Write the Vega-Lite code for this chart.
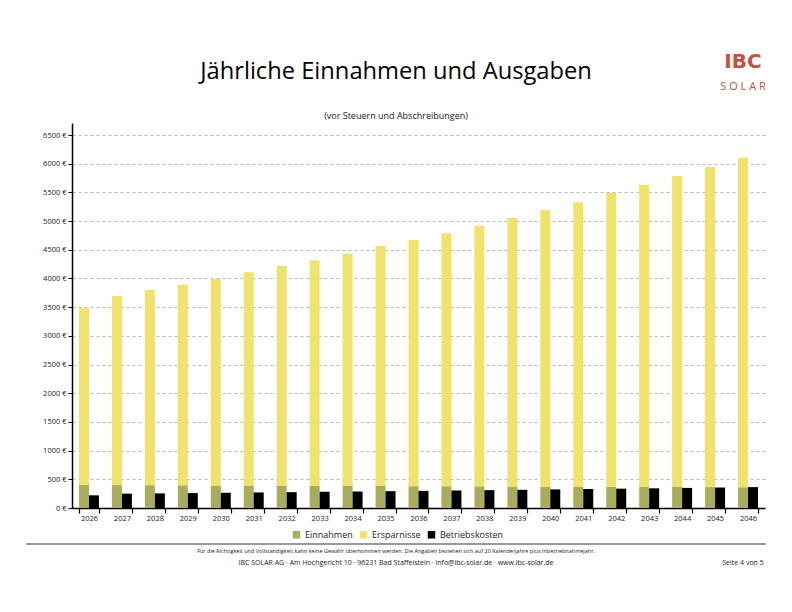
{
  "$schema": "https://vega.github.io/schema/vega-lite/v6.json",
  "padding": 0,
  "spacing": 0,
  "bounds": "full",
  "config": {
    "view": {"stroke": null},
    "font": "Open Sans",
    "concat": {"spacing": 0},
    "text": {"font": "Open Sans", "color": "#000"}
  },
  "datasets": {
    "werte": [
      {"jahr": "2026", "kategorie": "Einnahmen", "gruppe": "Ertrag", "wert": 401},
      {"jahr": "2026", "kategorie": "Ersparnisse", "gruppe": "Ertrag", "wert": 3089},
      {"jahr": "2026", "kategorie": "Betriebskosten", "gruppe": "Kosten", "wert": 221},
      {"jahr": "2027", "kategorie": "Einnahmen", "gruppe": "Ertrag", "wert": 399},
      {"jahr": "2027", "kategorie": "Ersparnisse", "gruppe": "Ertrag", "wert": 3296},
      {"jahr": "2027", "kategorie": "Betriebskosten", "gruppe": "Kosten", "wert": 250},
      {"jahr": "2028", "kategorie": "Einnahmen", "gruppe": "Ertrag", "wert": 397},
      {"jahr": "2028", "kategorie": "Ersparnisse", "gruppe": "Ertrag", "wert": 3403},
      {"jahr": "2028", "kategorie": "Betriebskosten", "gruppe": "Kosten", "wert": 255},
      {"jahr": "2029", "kategorie": "Einnahmen", "gruppe": "Ertrag", "wert": 395},
      {"jahr": "2029", "kategorie": "Ersparnisse", "gruppe": "Ertrag", "wert": 3495},
      {"jahr": "2029", "kategorie": "Betriebskosten", "gruppe": "Kosten", "wert": 260},
      {"jahr": "2030", "kategorie": "Einnahmen", "gruppe": "Ertrag", "wert": 393},
      {"jahr": "2030", "kategorie": "Ersparnisse", "gruppe": "Ertrag", "wert": 3597},
      {"jahr": "2030", "kategorie": "Betriebskosten", "gruppe": "Kosten", "wert": 265},
      {"jahr": "2031", "kategorie": "Einnahmen", "gruppe": "Ertrag", "wert": 391},
      {"jahr": "2031", "kategorie": "Ersparnisse", "gruppe": "Ertrag", "wert": 3719},
      {"jahr": "2031", "kategorie": "Betriebskosten", "gruppe": "Kosten", "wert": 271},
      {"jahr": "2032", "kategorie": "Einnahmen", "gruppe": "Ertrag", "wert": 389},
      {"jahr": "2032", "kategorie": "Ersparnisse", "gruppe": "Ertrag", "wert": 3831},
      {"jahr": "2032", "kategorie": "Betriebskosten", "gruppe": "Kosten", "wert": 276},
      {"jahr": "2033", "kategorie": "Einnahmen", "gruppe": "Ertrag", "wert": 387},
      {"jahr": "2033", "kategorie": "Ersparnisse", "gruppe": "Ertrag", "wert": 3933},
      {"jahr": "2033", "kategorie": "Betriebskosten", "gruppe": "Kosten", "wert": 282},
      {"jahr": "2034", "kategorie": "Einnahmen", "gruppe": "Ertrag", "wert": 385},
      {"jahr": "2034", "kategorie": "Ersparnisse", "gruppe": "Ertrag", "wert": 4045},
      {"jahr": "2034", "kategorie": "Betriebskosten", "gruppe": "Kosten", "wert": 287},
      {"jahr": "2035", "kategorie": "Einnahmen", "gruppe": "Ertrag", "wert": 383},
      {"jahr": "2035", "kategorie": "Ersparnisse", "gruppe": "Ertrag", "wert": 4182},
      {"jahr": "2035", "kategorie": "Betriebskosten", "gruppe": "Kosten", "wert": 293},
      {"jahr": "2036", "kategorie": "Einnahmen", "gruppe": "Ertrag", "wert": 381},
      {"jahr": "2036", "kategorie": "Ersparnisse", "gruppe": "Ertrag", "wert": 4289},
      {"jahr": "2036", "kategorie": "Betriebskosten", "gruppe": "Kosten", "wert": 299},
      {"jahr": "2037", "kategorie": "Einnahmen", "gruppe": "Ertrag", "wert": 379},
      {"jahr": "2037", "kategorie": "Ersparnisse", "gruppe": "Ertrag", "wert": 4411},
      {"jahr": "2037", "kategorie": "Betriebskosten", "gruppe": "Kosten", "wert": 305},
      {"jahr": "2038", "kategorie": "Einnahmen", "gruppe": "Ertrag", "wert": 377},
      {"jahr": "2038", "kategorie": "Ersparnisse", "gruppe": "Ertrag", "wert": 4538},
      {"jahr": "2038", "kategorie": "Betriebskosten", "gruppe": "Kosten", "wert": 311},
      {"jahr": "2039", "kategorie": "Einnahmen", "gruppe": "Ertrag", "wert": 375},
      {"jahr": "2039", "kategorie": "Ersparnisse", "gruppe": "Ertrag", "wert": 4680},
      {"jahr": "2039", "kategorie": "Betriebskosten", "gruppe": "Kosten", "wert": 317},
      {"jahr": "2040", "kategorie": "Einnahmen", "gruppe": "Ertrag", "wert": 373},
      {"jahr": "2040", "kategorie": "Ersparnisse", "gruppe": "Ertrag", "wert": 4822},
      {"jahr": "2040", "kategorie": "Betriebskosten", "gruppe": "Kosten", "wert": 324},
      {"jahr": "2041", "kategorie": "Einnahmen", "gruppe": "Ertrag", "wert": 371},
      {"jahr": "2041", "kategorie": "Ersparnisse", "gruppe": "Ertrag", "wert": 4959},
      {"jahr": "2041", "kategorie": "Betriebskosten", "gruppe": "Kosten", "wert": 330},
      {"jahr": "2042", "kategorie": "Einnahmen", "gruppe": "Ertrag", "wert": 369},
      {"jahr": "2042", "kategorie": "Ersparnisse", "gruppe": "Ertrag", "wert": 5121},
      {"jahr": "2042", "kategorie": "Betriebskosten", "gruppe": "Kosten", "wert": 337},
      {"jahr": "2043", "kategorie": "Einnahmen", "gruppe": "Ertrag", "wert": 367},
      {"jahr": "2043", "kategorie": "Ersparnisse", "gruppe": "Ertrag", "wert": 5263},
      {"jahr": "2043", "kategorie": "Betriebskosten", "gruppe": "Kosten", "wert": 343},
      {"jahr": "2044", "kategorie": "Einnahmen", "gruppe": "Ertrag", "wert": 366},
      {"jahr": "2044", "kategorie": "Ersparnisse", "gruppe": "Ertrag", "wert": 5419},
      {"jahr": "2044", "kategorie": "Betriebskosten", "gruppe": "Kosten", "wert": 350},
      {"jahr": "2045", "kategorie": "Einnahmen", "gruppe": "Ertrag", "wert": 364},
      {"jahr": "2045", "kategorie": "Ersparnisse", "gruppe": "Ertrag", "wert": 5581},
      {"jahr": "2045", "kategorie": "Betriebskosten", "gruppe": "Kosten", "wert": 357},
      {"jahr": "2046", "kategorie": "Einnahmen", "gruppe": "Ertrag", "wert": 362},
      {"jahr": "2046", "kategorie": "Ersparnisse", "gruppe": "Ertrag", "wert": 5748},
      {"jahr": "2046", "kategorie": "Betriebskosten", "gruppe": "Kosten", "wert": 364}
    ]
  },
  "vconcat": [
    {
      "bounds": "flush",
      "hconcat": [
        {"width": 72, "height": 123, "data": {"values": [{}]}, "mark": {"type": "text", "text": "", "fontSize": 0}},
        {
          "width": 648,
          "height": 123,
          "data": {"values": [{}]},
          "layer": [
            {"mark": {"type": "text", "text": "Jährliche Einnahmen und Ausgaben", "fontSize": 23.7, "baseline": "alphabetic", "dy": 17.5}},
            {"mark": {"type": "text", "text": "(vor Steuern und Abschreibungen)", "fontSize": 9, "baseline": "alphabetic", "dy": 57, "color": "#222"}}
          ]
        },
        {
          "width": 46,
          "height": 123,
          "data": {"values": [{}]},
          "layer": [
            {"mark": {"type": "text", "text": "IBC", "font": "DejaVu Sans", "fontWeight": "bold", "fontSize": 20, "baseline": "alphabetic", "dy": 6.8, "color": "#c4513f"}},
            {"mark": {"type": "text", "text": "S O L A R", "fontSize": 11, "baseline": "alphabetic", "dy": 28.5, "color": "#c4513f"}}
          ]
        }
      ]
    },
    {
      "bounds": "flush",
      "hconcat": [
        {"width": 72, "height": 385, "data": {"values": [{}]}, "mark": {"type": "text", "text": "", "fontSize": 0}},
        {
          "width": 693,
          "height": 385,
          "data": {"name": "werte"},
          "encoding": {
            "x": {
              "field": "jahr",
              "type": "ordinal",
              "scale": {"paddingInner": 0.394, "paddingOuter": 0.212},
              "axis": {
                "title": null,
                "labelAngle": 0,
                "tickBand": "extent",
                "domainColor": "#000",
                "domainWidth": 1.5,
                "tickColor": "#000",
                "tickWidth": 1.2,
                "tickSize": 5,
                "labelFontSize": 7.5,
                "labelColor": "#222",
                "labelPadding": 1,
                "grid": false
              }
            },
            "xOffset": {
              "field": "gruppe",
              "type": "nominal",
              "scale": {"domain": ["Ertrag", "Kosten"], "paddingInner": 0, "paddingOuter": 0}
            },
            "y": {
              "field": "wert",
              "type": "quantitative",
              "stack": "zero",
              "scale": {"domain": [0, 6710], "nice": false},
              "axis": {
                "title": null,
                "values": [0, 500, 1000, 1500, 2000, 2500, 3000, 3500, 4000, 4500, 5000, 5500, 6000, 6500],
                "labelExpr": "datum.value + ' €'",
                "grid": true,
                "gridDash": [3, 3],
                "gridColor": "#aaaaaa",
                "gridWidth": 0.8,
                "domainColor": "#000",
                "domainWidth": 1.5,
                "tickColor": "#000",
                "tickWidth": 1,
                "tickSize": 4,
                "labelFontSize": 7.5,
                "labelColor": "#222",
                "labelPadding": 2
              }
            },
            "color": {
              "field": "kategorie",
              "type": "nominal",
              "scale": {
                "domain": ["Einnahmen", "Ersparnisse", "Betriebskosten"],
                "range": ["#a9ad5b", "#f0e36c", "#000000"]
              },
              "legend": {
                "orient": "none",
                "legendX": 292,
                "legendY": 530,
                "direction": "horizontal",
                "title": null,
                "symbolType": "square",
                "symbolSize": 56,
                "symbolStrokeWidth": 0,
                "labelFontSize": 9,
                "labelColor": "#222",
                "labelOffset": 4,
                "columnPadding": 6
              }
            },
            "order": {"field": "kategorie", "sort": "ascending"}
          },
          "layer": [
            {
              "transform": [{"filter": "datum.gruppe === 'Ertrag'"}],
              "mark": {"type": "bar"}
            },
            {
              "transform": [{"filter": "datum.gruppe === 'Kosten'"}],
              "mark": {"type": "bar"}
            }
          ]
        }
      ]
    },
    {"width": 10, "height": 21, "data": {"values": [{}]}, "mark": {"type": "text", "text": "", "fontSize": 0}},
    {
      "bounds": "flush",
      "hconcat": [
        {"width": 26, "height": 2, "data": {"values": [{}]}, "mark": {"type": "text", "text": "", "fontSize": 0}},
        {"width": 740, "height": 2, "data": {"values": [{}]}, "view": {"fill": "#9a9a9a", "stroke": null}, "mark": {"type": "text", "text": "", "fontSize": 0}}
      ]
    },
    {
      "bounds": "flush",
      "hconcat": [
        {"width": 72, "height": 25, "data": {"values": [{}]}, "mark": {"type": "text", "text": "", "fontSize": 0}},
        {
          "width": 648,
          "height": 25,
          "data": {"values": [{}]},
          "layer": [
            {"mark": {"type": "text", "text": "Für die Richtigkeit und Vollständigkeit kann keine Gewähr übernommen werden. Die Angaben beziehen sich auf 20 Kalenderjahre plus Inbetriebnahmejahr.", "fontSize": 5.5, "baseline": "alphabetic", "dy": -4.5, "color": "#222"}},
            {"mark": {"type": "text", "text": "IBC SOLAR AG · Am Hochgericht 10 · 96231 Bad Staffelstein · info@ibc-solar.de · www.ibc-solar.de", "fontSize": 7, "baseline": "alphabetic", "dy": 7, "color": "#222"}}
          ]
        },
        {
          "width": 46,
          "height": 25,
          "data": {"values": [{}]},
          "mark": {"type": "text", "text": "Seite 4 von 5", "fontSize": 7, "baseline": "alphabetic", "dy": 7, "color": "#222"}
        }
      ]
    }
  ]
}
